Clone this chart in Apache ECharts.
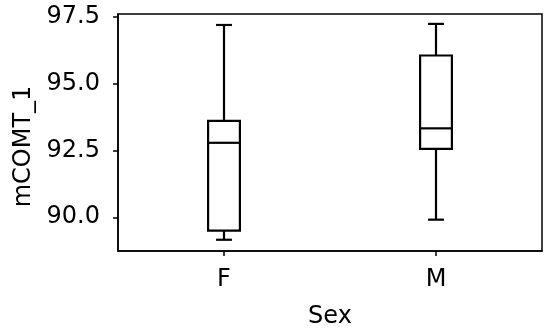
<!DOCTYPE html>
<html>
<head>
<meta charset="utf-8">
<script src="https://cdn.jsdelivr.net/npm/echarts@6/dist/echarts.min.js"></script>
<style>
html,body{margin:0;padding:0;background:#fff;}
#chart{width:550px;height:332px;}
</style>
</head>
<body>
<div id="chart"></div>
<script>
const categories = ['F', 'M'];
// [min, Q1, median, Q3, max]
const boxF = [89.16, 89.50, 92.78, 93.60, 97.18];
const boxM = [89.91, 92.55, 93.32, 96.04, 97.22];
const yTicks = [90.0, 92.5, 95.0, 97.5];
const xTitle = 'Sex';
const yTitle = 'mCOMT_1';

const boxes = [boxF, boxM];
const data = boxes.map((b, i) => [i].concat(b));

const FONT = 'DejaVu Sans';
const chart = echarts.init(document.getElementById('chart'), null, {renderer: 'canvas'});

function renderBox(params, api) {
  const x = api.value(0);
  const pMin = api.coord([x, api.value(1)]);
  const pQ1 = api.coord([x, api.value(2)]);
  const pMed = api.coord([x, api.value(3)]);
  const pQ3 = api.coord([x, api.value(4)]);
  const pMax = api.coord([x, api.value(5)]);
  const bw = api.size([1, 0])[0] * 0.15;
  const cw = bw / 2;
  const cx = pMed[0];
  const st = {stroke: '#000', lineWidth: 2.2, fill: null};
  return {
    type: 'group',
    children: [
      {type: 'line', shape: {x1: cx, y1: pQ1[1], x2: cx, y2: pMin[1]}, style: st},
      {type: 'line', shape: {x1: cx, y1: pQ3[1], x2: cx, y2: pMax[1]}, style: st},
      {type: 'line', shape: {x1: cx - cw / 2, y1: pMin[1], x2: cx + cw / 2, y2: pMin[1]}, style: st},
      {type: 'line', shape: {x1: cx - cw / 2, y1: pMax[1], x2: cx + cw / 2, y2: pMax[1]}, style: st},
      {type: 'rect', shape: {x: cx - bw / 2, y: pQ3[1], width: bw, height: pQ1[1] - pQ3[1]}, style: {stroke: '#000', lineWidth: 2.2, fill: '#fff'}},
      {type: 'line', shape: {x1: cx - bw / 2, y1: pMed[1], x2: cx + bw / 2, y2: pMed[1]}, style: st}
    ]
  };
}

chart.setOption({
  animation: false,
  backgroundColor: '#fff',
  grid: {left: 118, right: 8, top: 14, bottom: 81, show: true, borderColor: '#000', borderWidth: 1.5, backgroundColor: 'transparent', containLabel: false, outerBoundsMode: 'none'},
  xAxis: {
    type: 'category',
    data: categories,
    boundaryGap: true,
    name: xTitle,
    nameLocation: 'middle',
    nameGap: 54,
    nameTextStyle: {fontFamily: FONT, fontSize: 24, color: '#000'},
    axisLine: {show: true, lineStyle: {color: '#000', width: 1.5}},
    axisTick: {show: true, alignWithLabel: true, length: 5, lineStyle: {color: '#000', width: 1.5}},
    axisLabel: {fontFamily: FONT, fontSize: 24, color: '#000', margin: 17},
    splitLine: {show: false}
  },
  yAxis: {
    type: 'value',
    min: 88.74,
    max: 97.59,
    name: yTitle,
    nameLocation: 'middle',
    nameGap: 76,
    nameTextStyle: {fontFamily: FONT, fontSize: 24, color: '#000', padding: [0, 28, 0, 0]},
    axisLine: {show: true, lineStyle: {color: '#000', width: 1.5}},
    axisTick: {show: true, length: 5, customValues: yTicks, lineStyle: {color: '#000', width: 1.5}},
    axisLabel: {fontFamily: FONT, fontSize: 24, color: '#000', margin: 18, customValues: yTicks, formatter: v => v.toFixed(1)},
    splitLine: {show: false}
  },
  series: [{
    type: 'custom',
    renderItem: renderBox,
    encode: {x: 0, y: [1, 2, 3, 4, 5]},
    data: data
  }]
});
</script>
</body>
</html>
